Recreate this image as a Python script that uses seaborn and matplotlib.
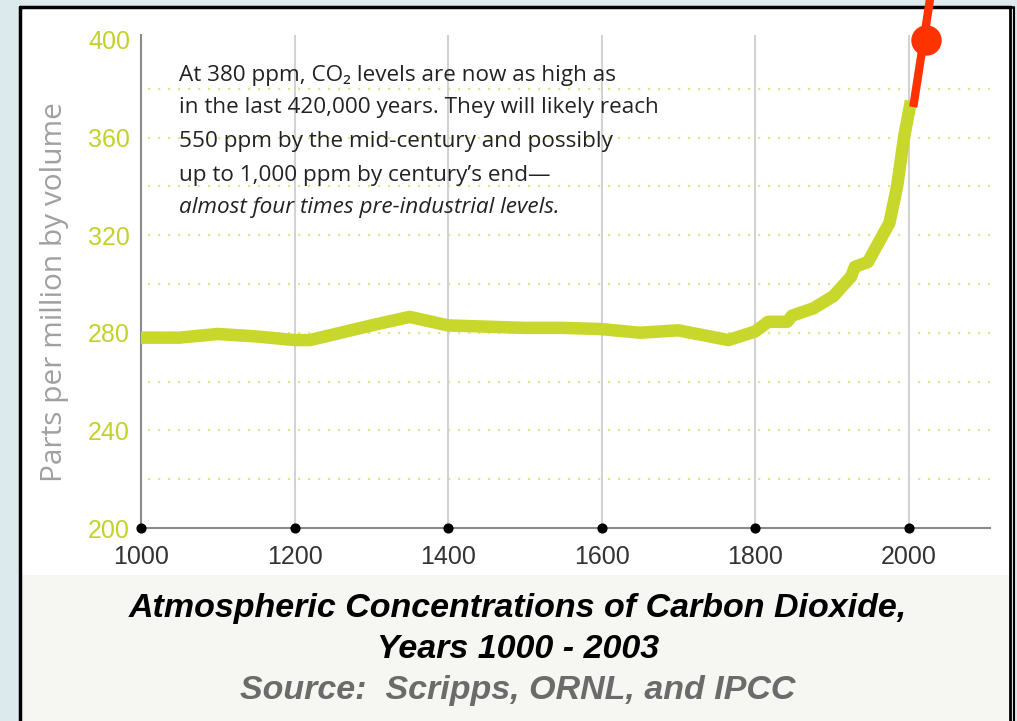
import matplotlib
matplotlib.use('Agg')
import matplotlib.pyplot as plt
import seaborn as sns
import pandas as pd
from matplotlib.patches import Rectangle
from matplotlib.lines import Line2D

# ---------------------------------------------
# Data
# ---------------------------------------------
years = [1000, 1050, 1100, 1150, 1200, 1220, 1300, 1350, 1400, 1450, 1500,
         1550, 1600, 1650, 1700, 1765, 1800, 1817, 1842, 1848, 1876, 1902,
         1925, 1930, 1947, 1975, 1985, 1994, 2003]
ppm = [278, 278, 279.5, 278.5, 277, 277, 283, 286.5, 283, 282.5, 282,
       282, 281.5, 280, 281, 277, 280.5, 284.5, 284.5, 287, 290, 295,
       303, 307, 309, 325, 340, 360, 375]

proj_years = [2006, 2030]
proj_ppm = [372.5, 421]
now_year = [2023]
now_ppm = [400]

x_ticks = [1000, 1200, 1400, 1600, 1800, 2000]
y_ticks = [200, 240, 280, 320, 360, 400]
y_grid = [220, 240, 260, 280, 300, 320, 340, 360, 380]

note_lines = [
    "At 380 ppm, CO\u2082 levels are now as high as",
    "in the last 420,000 years. They will likely reach",
    "550 ppm by the mid-century and possibly",
    "up to 1,000 ppm by century\u2019s end\u2014",
    "almost four times pre-industrial levels.",
]
title_lines = ["Atmospheric Concentrations of Carbon Dioxide,", "Years 1000 - 2003"]
source_line = "Source:  Scripps, ORNL, and IPCC"

GREEN = '#c8d72c'
GRID_GREEN = '#dfe68c'
RED = '#ff3300'

df = pd.DataFrame({'year': years, 'ppm': ppm})
proj = pd.DataFrame({'year': proj_years, 'ppm': proj_ppm})

sns.set_style('white')
plt.rcParams['font.family'] = ['Liberation Sans', 'DejaVu Sans']

W, H = 1017, 721
fig = plt.figure(figsize=(W / 100, H / 100), dpi=100, facecolor='#dce9ed')

def px(x, y):
    return x / W, 1 - y / H

# panel background + frame (behind the axes)
fig.patches.append(Rectangle(px(20, 575), (1011 - 20) / W, (575 - 7) / H,
                             transform=fig.transFigure, facecolor='white', edgecolor='none', zorder=-2))
fig.patches.append(Rectangle(px(20, 721), (1011 - 20) / W, (721 - 575) / H,
                             transform=fig.transFigure, facecolor='#f6f7f2', edgecolor='none', zorder=-2))
for xs, ys, lw in [([20, 20], [7, 721], 2.5), ([20, 1011], [7, 7], 2.5),
                   ([1010, 1010], [7, 721], 2), ([1014, 1014], [7, 721], 1.5)]:
    fig.lines.append(Line2D([x / W for x in xs], [1 - y / H for y in ys],
                            transform=fig.transFigure, color='black', lw=lw, zorder=-1))

ax = fig.add_axes([141 / W, 1 - 528 / H, (990 - 141) / W, (528 - 35) / H])
ax.set_facecolor('none')
ax.set_xlim(1000, 2106)
ax.set_ylim(200, 402)

# grid
for g in y_grid:
    ax.axhline(g, xmin=0.008, color=GRID_GREEN, lw=1.6, ls=(0, (1, 3.5)), zorder=1)
for t in x_ticks[1:]:
    ax.axvline(t, color='#d2d2d2', lw=1.5, zorder=1)

sns.lineplot(data=df, x='year', y='ppm', ax=ax, color=GREEN, lw=9,
             solid_capstyle='butt', solid_joinstyle='round', zorder=3)
sns.lineplot(data=proj, x='year', y='ppm', ax=ax, color=RED, lw=6,
             solid_capstyle='butt', zorder=4, clip_on=False)
ax.scatter(now_year, now_ppm, s=480, color=RED, zorder=5, clip_on=False, linewidths=0)
ax.scatter(x_ticks, [200] * len(x_ticks), s=40, color='black', zorder=6, clip_on=False)

for s in ['top', 'right']:
    ax.spines[s].set_visible(False)
for s in ['left', 'bottom']:
    ax.spines[s].set_color('#8a8a8a')
    ax.spines[s].set_linewidth(1.5)

ax.set_xticks(x_ticks)
ax.set_yticks(y_ticks)
ax.tick_params(length=0)
ax.tick_params(axis='x', pad=12, labelsize=18, labelcolor='#333333')
ax.tick_params(axis='y', pad=8, labelsize=18, labelcolor='#c3d22a')
ax.set_xlabel('')
ax.set_ylabel('')

fig.text(55 / W, 1 - 292 / H, 'Parts per million by volume', rotation=90,
         ha='center', va='center', fontsize=21.5, color='#a0a0a0',
         family=['Open Sans', 'DejaVu Sans'])

# annotation
note_y = [75, 108, 142, 176, 208]
for i, (line, y) in enumerate(zip(note_lines, note_y)):
    fig.text(179 / W, 1 - y / H, line, ha='left', va='center', fontsize=16.2,
             color='#222222', style='italic' if i == len(note_lines) - 1 else 'normal',
             family=['Open Sans', 'DejaVu Sans'])

# caption
fig.text(518 / W, 1 - 608 / H, title_lines[0], ha='center', va='center', fontsize=24.5,
         weight='bold', style='italic', color='black')
fig.text(518 / W, 1 - 650 / H, title_lines[1], ha='center', va='center', fontsize=24.5,
         weight='bold', style='italic', color='black')
fig.text(518 / W, 1 - 691 / H, source_line, ha='center', va='center', fontsize=24.5,
         weight='bold', style='italic', color='#6b6b6b')

fig.savefig('out.png', dpi=100, facecolor=fig.get_facecolor())
